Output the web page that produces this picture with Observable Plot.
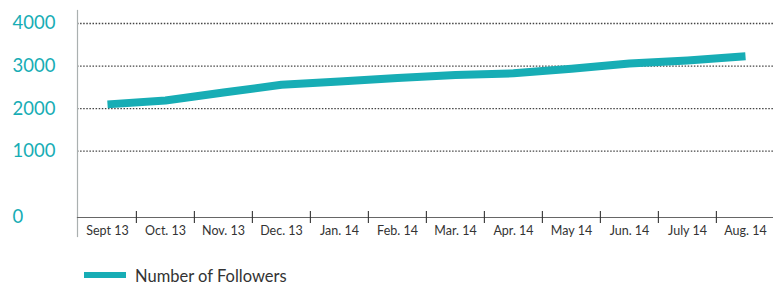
<!DOCTYPE html>
<html>
<head>
<meta charset="utf-8">
<script src="https://cdn.jsdelivr.net/npm/d3@7"></script>
<script src="https://cdn.jsdelivr.net/npm/@observablehq/plot@0.6"></script>
<style>
  body { margin: 0; background: #fff; font-family: Lato, "Open Sans", sans-serif; }
  #chart svg { display: block; }
  #legend { position: relative; height: 40px; width: 773px; }
  #legend .sw { position: absolute; left: 84px; top: 27px; width: 42px; height: 6px; background: #17adb5; }
  #legend .lb { position: absolute; left: 135px; top: 21px; font-size: 16.5px; color: #333; line-height: 20px; }
</style>
</head>
<body>
<div id="chart"></div>
<div id="legend"><div class="sw"></div><div class="lb">Number of Followers</div></div>
<script>
const months = ["Sept 13","Oct. 13","Nov. 13","Dec. 13","Jan. 14","Feb. 14","Mar. 14","Apr. 14","May 14","Jun. 14","July 14","Aug. 14"];
const followers = [2100, 2190, 2380, 2560, 2640, 2720, 2790, 2830, 2940, 3060, 3130, 3230];
const yGrid = [1000, 2000, 3000, 4000];
const yLabels = ["1000", "2000", "3000", "4000"];
const zeroLabel = "0";
const seriesName = "Number of Followers";

const data = months.map((m, i) => ({month: m, value: followers[i]}));
const teal = "#17adb5";
const bw = (775 - 76) / months.length;

const chart = Plot.plot({
  width: 773,
  height: 245,
  marginLeft: 77,
  marginRight: 0,
  marginTop: 10,
  marginBottom: 28,
  style: {fontFamily: "Lato, 'Open Sans', sans-serif", background: "#fff"},
  x: {type: "band", domain: months, range: [76, 775], padding: 0},
  y: {domain: [-560, 4307], axis: null},
  marks: [
    Plot.ruleY(yGrid, {stroke: "#444", strokeWidth: 1.4, strokeDasharray: "1.5,1.6"}),
    Plot.frame({anchor: "left", stroke: "#aab0b0", strokeWidth: 1.2, insetBottom: -19}),
    Plot.frame({anchor: "bottom", stroke: "#666", strokeWidth: 1.2}),
    Plot.ruleX(months.slice(1), {x: d => d, dx: -bw / 2, stroke: "#333", strokeWidth: 1.1, insetTop: 201, insetBottom: -6}),
    Plot.axisX({tickSize: 0, tickPadding: 9, fontSize: 12.5, fill: "#333", label: null}),
    Plot.text(yGrid, {y: d => d, text: (d, i) => yLabels[i], frameAnchor: "left", dx: -65, textAnchor: "start", fill: teal, fontSize: 18.5}),
    Plot.text([zeroLabel], {text: d => d, frameAnchor: "bottom-left", lineAnchor: "middle", dx: -65, textAnchor: "start", fill: teal, fontSize: 18.5}),
    Plot.line(data, {x: "month", y: "value", stroke: teal, strokeWidth: 8, strokeLinecap: "butt", strokeLinejoin: "round", curve: "linear"})
  ]
});
document.getElementById("chart").appendChild(chart);
document.querySelector("#legend .lb").textContent = seriesName;
</script>
</body>
</html>
